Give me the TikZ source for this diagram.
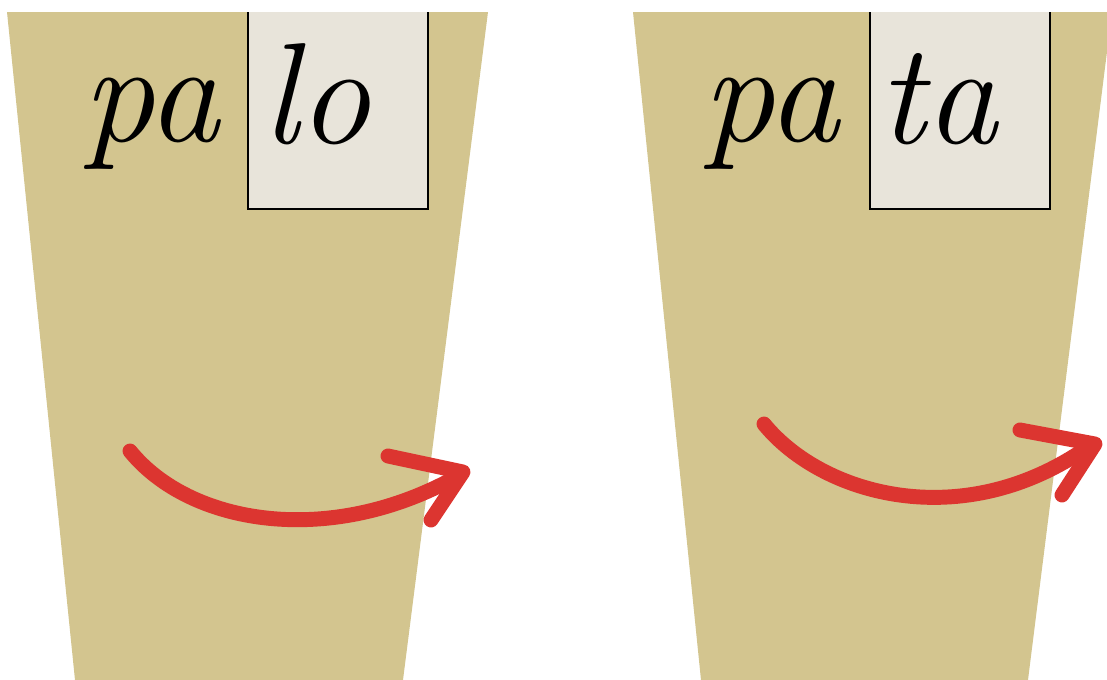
\documentclass[tikz,border=0pt]{standalone}
\usepackage{fontspec}
\begin{document}
\begin{tikzpicture}[x=0.02cm,y=-0.02cm,
  cup/.style={fill=tan},
  slot/.style={fill=boxfill},
  slotline/.style={draw=black,line width=1.3pt},
  word/.style={inner sep=0pt,anchor=base west,font=\fontsize{82}{82}\selectfont\itshape},
  shaft/.style={draw=arrowred,line width=8.5pt,line cap=round},
  head/.style={draw=arrowred,line width=8.5pt,line cap=round,line join=round}]
\definecolor{tan}{HTML}{D3C58F}
\definecolor{boxfill}{HTML}{E8E4DA}
\definecolor{arrowred}{HTML}{DC3530}
\useasboundingbox (0,0) rectangle (1107,680);
\clip (0,0) rectangle (1107,680);
% cups
\fill[cup] (7,12) -- (488,12) -- (403,680) -- (75,680) -- cycle;
\fill[cup] (633,12) -- (1112,12) -- (1028,680) -- (701,680) -- cycle;
% boxes
\fill[slot] (248,12) rectangle (428,209);
\draw[slotline] (248,12) -- (248,209) -- (428,209) -- (428,12);
\fill[slot] (870,12) rectangle (1050,209);
\draw[slotline] (870,12) -- (870,209) -- (1050,209) -- (1050,12);
% words
\node[word] (pa1) at (82,141) {pa};
\node[word] (lo) at (262,143) {lo};
\node[word] (pa2) at (702,141) {pa};
\node[word] (ta) at (878,143) {ta};
% arrows
\coordinate (s1) at (130,451);
\coordinate (e1) at (458,476);
\draw[shaft] (s1) .. controls (190,525) and (330,548) .. (e1);
\draw[head] (388,456) -- (463,472) -- (431,520);
\coordinate (s2) at (764,424);
\coordinate (e2) at (1088,447);
\draw[shaft] (s2) .. controls (822,495) and (962,535) .. (e2);
\draw[head] (1020,430) -- (1095,444) -- (1062,495);
\end{tikzpicture}
\end{document}
